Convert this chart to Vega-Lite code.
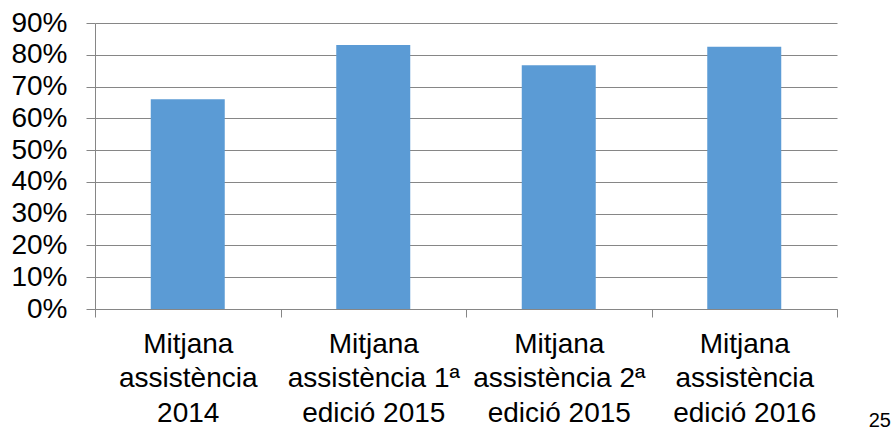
{
  "$schema": "https://vega.github.io/schema/vega-lite/v6.json",
  "width": 742,
  "height": 286,
  "autosize": "none",
  "padding": {"left": 95, "top": 23, "right": 56, "bottom": 124},
  "background": "white",
  "title": {
    "text": "25",
    "orient": "bottom",
    "anchor": "end",
    "frame": "group",
    "font": "Liberation Sans",
    "fontSize": 20,
    "fontWeight": "normal",
    "color": "#000000",
    "baseline": "alphabetic",
    "offset": 0,
    "dy": 0,
    "dx": 54
  },
  "data": {
    "values": [
      {"cat": "Mitjana|assistència|2014", "value": 0.66},
      {"cat": "Mitjana|assistència 1ª|edició 2015", "value": 0.831},
      {"cat": "Mitjana|assistència 2ª|edició 2015", "value": 0.767},
      {"cat": "Mitjana|assistència|edició 2016", "value": 0.825}
    ]
  },
  "mark": {"type": "bar", "color": "#5B9BD5", "size": 74},
  "encoding": {
    "x": {
      "field": "cat",
      "type": "nominal",
      "sort": null,
      "scale": {"paddingInner": 0, "paddingOuter": 0},
      "axis": {
        "title": null,
        "labelAngle": 0,
        "labelExpr": "split(datum.label, '|')",
        "labelFont": "Liberation Sans",
        "labelFontSize": 28,
        "labelLineHeight": 34.5,
        "labelColor": "#000000",
        "labelPadding": 13,
        "labelLimit": 0,
        "labelOverlap": false,
        "tickBand": "extent",
        "tickSize": 8,
        "tickColor": "#868686",
        "domainColor": "#868686",
        "grid": false
      }
    },
    "y": {
      "field": "value",
      "type": "quantitative",
      "scale": {"domain": [0, 0.9], "nice": false},
      "axis": {
        "title": null,
        "values": [0, 0.1, 0.2, 0.3, 0.4, 0.5, 0.6, 0.7, 0.8, 0.9],
        "format": ".0%",
        "labelFont": "Liberation Sans",
        "labelFontSize": 28,
        "labelColor": "#000000",
        "labelPadding": 19,
        "labelOverlap": false,
        "tickSize": 9,
        "tickColor": "#868686",
        "domainColor": "#868686",
        "gridColor": "#868686",
        "grid": true
      }
    }
  },
  "config": {"view": {"stroke": null}}
}
